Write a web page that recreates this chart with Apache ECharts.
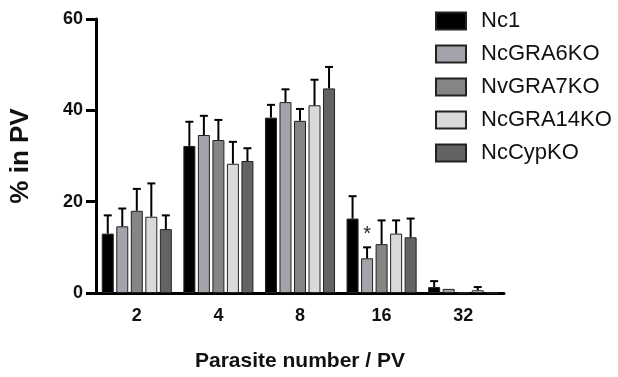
<!DOCTYPE html>
<html><head><meta charset="utf-8">
<script src="https://cdn.jsdelivr.net/npm/echarts@6/dist/echarts.min.js"></script>
<style>html,body{margin:0;padding:0;background:#fff}#c{width:618px;height:377px}</style>
</head><body><div id="c"></div>
<script>
var categories = ['2', '4', '8', '16', '32'];
var seriesNames = ['Nc1', 'NcGRA6KO', 'NvGRA7KO', 'NcGRA14KO', 'NcCypKO'];
var nc1       = [13.0, 32.2, 38.4, 16.3, 1.3];
var nc1Err    = [4.0, 5.3, 2.8, 4.9, 1.3];
var gra6      = [14.6, 34.6, 41.8, 7.6, 0.9];
var gra6Err   = [3.9, 4.2, 2.8, 2.4, 0];
var gra7      = [18.0, 33.5, 37.7, 10.7, 0];
var gra7Err   = [4.8, 4.4, 2.6, 5.2, 0];
var gra14     = [16.7, 28.3, 41.1, 13.0, 0.6];
var gra14Err  = [7.3, 4.8, 5.6, 2.9, 0.7];
var cyp       = [14.0, 28.9, 44.8, 12.2, 0];
var cypErr    = [3.0, 2.8, 4.7, 4.1, 0];
var yTicks = [0, 20, 40, 60];
var star = {series: 1, category: '16', value: 13.8, text: '*'};

var values = [nc1, gra6, gra7, gra14, cyp];
var errors = [nc1Err, gra6Err, gra7Err, gra14Err, cypErr];
var colors = ['#000000', '#a3a3ab', '#858585', '#d9d9d9', '#636363'];
var FONT = "'Liberation Sans', Arial, sans-serif";
var BW = 12, GAP_PCT = 21;

var errData = [];
values.forEach(function (vals, si) {
  vals.forEach(function (v, ci) {
    if (errors[si][ci] > 0) errData.push([ci, v, errors[si][ci], si]);
  });
});

function renderErr(params, api) {
  var ci = api.value(0), v = api.value(1), e = api.value(2), si = api.value(3);
  var gap = BW * GAP_PCT / 100;
  var total = 5 * BW + 4 * gap;
  var off = -total / 2 + si * (BW + gap) + BW / 2;
  var p0 = api.coord([ci, v]);
  var p1 = api.coord([ci, v + e]);
  var x = p0[0] + off;
  var st = {stroke: '#000', lineWidth: 2};
  return {type: 'group', children: [
    {type: 'line', shape: {x1: x, y1: p0[1], x2: x, y2: p1[1]}, style: st},
    {type: 'line', shape: {x1: x - 4, y1: p1[1], x2: x + 4, y2: p1[1]}, style: st}
  ]};
}

var series = seriesNames.map(function (n, si) {
  var s = {
    name: n, type: 'bar', data: values[si], barWidth: BW, barGap: GAP_PCT + '%',
    itemStyle: {color: colors[si], borderColor: '#222', borderWidth: 1},
    z: 2
  };
  if (si === star.series) {
    s.markPoint = {symbol: 'circle', symbolSize: 1, itemStyle: {color: 'transparent'},
      label: {show: true, formatter: star.text, color: '#222', fontSize: 20, fontFamily: FONT, position: 'inside', offset: [0, 5]},
      data: [{coord: [star.category, star.value]}]};
  }
  return s;
});
series.push({type: 'custom', renderItem: renderErr, data: errData, z: 3, silent: true});

var chart = echarts.init(document.getElementById('c'), null, {renderer: 'canvas'});
chart.setOption({
  animation: false,
  backgroundColor: '#fff',
  color: colors,
  grid: {left: 95, right: 114, top: 19, bottom: 82, containLabel: false},
  legend: {
    orient: 'vertical', left: 435, top: 10, padding: 0, icon: 'rect',
    itemWidth: 30, itemHeight: 17, itemGap: 11,
    data: seriesNames,
    textStyle: {fontSize: 22, color: '#111', fontFamily: FONT, padding: [0, 0, 0, 10]}
  },
  xAxis: {
    type: 'category', data: categories,
    name: 'Parasite number / PV', nameLocation: 'middle', nameGap: 58,
    nameTextStyle: {fontSize: 21, fontWeight: 'bold', color: '#111', fontFamily: FONT},
    axisLine: {lineStyle: {color: '#000', width: 3}},
    axisTick: {alignWithLabel: true, length: 9, lineStyle: {color: '#000', width: 3}},
    axisLabel: {fontSize: 18, fontWeight: 'bold', color: '#111', margin: 14, fontFamily: FONT}
  },
  yAxis: {
    type: 'value', min: yTicks[0], max: yTicks[yTicks.length - 1], interval: 20,
    name: '% in PV', nameLocation: 'middle', nameGap: 62, nameRotate: 90,
    nameTextStyle: {fontSize: 26, fontWeight: 'bold', color: '#111', fontFamily: FONT},
    axisLine: {show: true, lineStyle: {color: '#000', width: 3}},
    axisTick: {show: true, length: 10, lineStyle: {color: '#000', width: 3}},
    splitLine: {show: false},
    axisLabel: {fontSize: 18, fontWeight: 'bold', color: '#111', margin: 13, fontFamily: FONT}
  },
  series: series
});
</script></body></html>
